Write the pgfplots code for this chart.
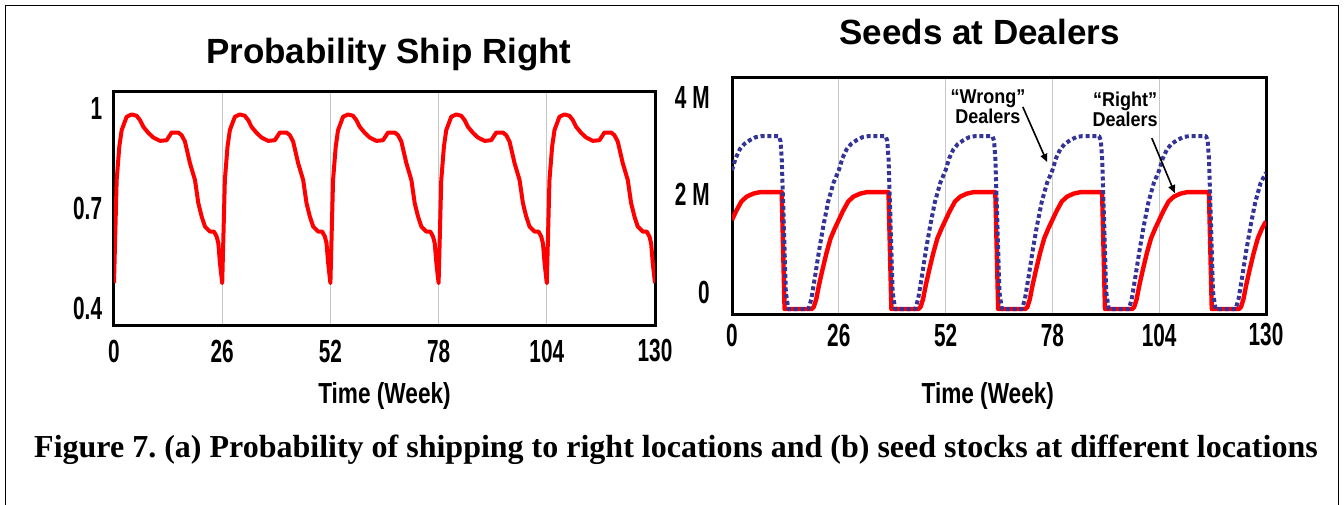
\documentclass[border=0pt]{standalone}
\usepackage{fontspec}
\setmainfont{Liberation Sans}
\newfontfamily\tickfont[FakeStretch=0.65]{Liberation Sans Bold}
\newfontfamily\labfont[FakeStretch=0.78]{Liberation Sans Bold}
\newfontfamily\annfont[FakeStretch=0.9]{Liberation Sans Bold}
\newfontfamily\titfont{Liberation Sans Bold}
\newfontfamily\capfont{Liberation Serif Bold}
\usepackage{pgfplots}
\pgfplotsset{compat=1.18}
\usetikzlibrary{arrows.meta}
\definecolor{wrongblue}{RGB}{51,51,153}
\frenchspacing
\pgfplotsset{
  common/.style={
    scale only axis, anchor=south west,
    xmin=0, xmax=130,
    xtick={0,26,52,78,104,130}, xticklabels={0,26,52,78,104,130},
    major tick length=0pt,
    xmajorgrids, major grid style={line width=0.5pt, black!22},
    axis line style={line width=1.5pt},
    ticklabel style={font=\tickfont\fontsize{16}{16}\selectfont, inner sep=0pt},
    xticklabel style={anchor=center},
    yticklabel style={anchor=east},
    title style={font=\titfont\fontsize{17.5}{17.5}\selectfont, anchor=center, inner sep=0pt},
    xlabel style={font=\labfont\fontsize{14.5}{14.5}\selectfont, anchor=center, inner sep=0pt},
  }
}
\begin{document}
\begin{tikzpicture}
\path[use as bounding box] (0,0) rectangle (672pt,252pt);
\draw[line width=0.5pt] (2.5pt,-2pt) -- (2.5pt,249pt) -- (669pt,249pt) -- (669pt,-2pt);

\begin{axis}[common,
  at={(57pt,89pt)}, width=270.5pt, height=117.5pt,
  ymin=0.349, ymax=1.051,
  ytick={0.4,0.7,1}, yticklabels={0.4,0.7,1},
  xticklabel style={yshift=-12.5pt},
  yticklabel style={xshift=-5.75pt},
  title={Probability Ship Right},
  title style={at={(axis description cs:0.508,1.106)}},
  xlabel={Time (Week)},
  xlabel style={at={(axis description cs:0.5,-0.298)}},
]
\addplot[red, line width=2pt, line join=round] coordinates {
(0,0.477)(0.64,0.785)(1.28,0.885)(1.84,0.934)(3.04,0.974)(4.24,0.981)(5.44,0.977)(6.25,0.964)(7.05,0.944)(8.25,0.926)(9.45,0.912)(11.05,0.902)(12.65,0.904)(13.85,0.927)(15.45,0.927)(16.25,0.919)(17.05,0.900)(18.26,0.835)(19.46,0.785)(20.26,0.716)(21.06,0.676)(21.86,0.646)(23.07,0.631)(24.03,0.631)(24.67,0.616)(25.07,0.596)(25.47,0.536)
(26,0.477)(26.64,0.785)(27.28,0.885)(27.84,0.934)(29.04,0.974)(30.24,0.981)(31.44,0.977)(32.25,0.964)(33.05,0.944)(34.25,0.926)(35.45,0.912)(37.05,0.902)(38.65,0.904)(39.85,0.927)(41.45,0.927)(42.25,0.919)(43.05,0.900)(44.26,0.835)(45.46,0.785)(46.26,0.716)(47.06,0.676)(47.86,0.646)(49.07,0.631)(50.03,0.631)(50.67,0.616)(51.07,0.596)(51.47,0.536)
(52,0.477)(52.64,0.785)(53.28,0.885)(53.84,0.934)(55.04,0.974)(56.24,0.981)(57.44,0.977)(58.25,0.964)(59.05,0.944)(60.25,0.926)(61.45,0.912)(63.05,0.902)(64.65,0.904)(65.85,0.927)(67.45,0.927)(68.25,0.919)(69.05,0.900)(70.26,0.835)(71.46,0.785)(72.26,0.716)(73.06,0.676)(73.86,0.646)(75.07,0.631)(76.03,0.631)(76.67,0.616)(77.07,0.596)(77.47,0.536)
(78,0.477)(78.64,0.785)(79.28,0.885)(79.84,0.934)(81.04,0.974)(82.24,0.981)(83.44,0.977)(84.25,0.964)(85.05,0.944)(86.25,0.926)(87.45,0.912)(89.05,0.902)(90.65,0.904)(91.85,0.927)(93.45,0.927)(94.25,0.919)(95.05,0.900)(96.26,0.835)(97.46,0.785)(98.26,0.716)(99.06,0.676)(99.86,0.646)(101.07,0.631)(102.03,0.631)(102.67,0.616)(103.07,0.596)(103.47,0.536)
(104,0.477)(104.64,0.785)(105.28,0.885)(105.84,0.934)(107.04,0.974)(108.24,0.981)(109.44,0.977)(110.25,0.964)(111.05,0.944)(112.25,0.926)(113.45,0.912)(115.05,0.902)(116.65,0.904)(117.85,0.927)(119.45,0.927)(120.25,0.919)(121.05,0.900)(122.26,0.835)(123.46,0.785)(124.26,0.716)(125.06,0.676)(125.86,0.646)(127.07,0.631)(128.03,0.631)(128.67,0.616)(129.07,0.596)(129.47,0.536)(130,0.477)
};
\end{axis}

\begin{axis}[common,
  at={(366pt,95pt)}, width=267pt, height=118pt,
  ymin=-0.452, ymax=4.394,
  ytick={0,2,4}, yticklabels={0,2 M,4 M},
  xticklabel style={yshift=-10.5pt},
  yticklabel style={xshift=-11pt},
  title={Seeds at Dealers},
  title style={at={(axis description cs:0.4635,1.144)}},
  xlabel={Time (Week)},
  xlabel style={at={(axis description cs:0.479,-0.347)}},
]
\addplot[red, line width=2.2pt, line join=round] coordinates {
(0,1.48)(1,1.66)(2.3,1.86)(3.6,1.96)(5.2,2.02)(6.8,2.05)(12.1,2.05)(12.8,-0.35)(19.4,-0.35)(19.9,-0.31)(20.5,-0.15)(21.2,0.15)(22,0.45)(23,0.8)(24,1.1)(25,1.3)
(26,1.48)(27,1.66)(28.3,1.86)(29.6,1.96)(31.2,2.02)(32.8,2.05)(38.1,2.05)(38.8,-0.35)(45.4,-0.35)(45.9,-0.31)(46.5,-0.15)(47.2,0.15)(48,0.45)(49,0.8)(50,1.1)(51,1.3)
(52,1.48)(53,1.66)(54.3,1.86)(55.6,1.96)(57.2,2.02)(58.8,2.05)(64.1,2.05)(64.8,-0.35)(71.4,-0.35)(71.9,-0.31)(72.5,-0.15)(73.2,0.15)(74,0.45)(75,0.8)(76,1.1)(77,1.3)
(78,1.48)(79,1.66)(80.3,1.86)(81.6,1.96)(83.2,2.02)(84.8,2.05)(90.1,2.05)(90.8,-0.35)(97.4,-0.35)(97.9,-0.31)(98.5,-0.15)(99.2,0.15)(100,0.45)(101,0.8)(102,1.1)(103,1.3)
(104,1.48)(105,1.66)(106.3,1.86)(107.6,1.96)(109.2,2.02)(110.8,2.05)(116.1,2.05)(116.8,-0.35)(123.4,-0.35)(123.9,-0.31)(124.5,-0.15)(125.2,0.15)(126,0.45)(127,0.8)(128,1.1)(129,1.3)(130,1.45)
};
\addplot[wrongblue, line width=2pt, dash pattern=on 2pt off 1.4pt, line join=round] coordinates {
(0,2.5)(0.9,2.75)(1.9,2.93)(3,3.04)(4.4,3.12)(5.8,3.18)(7.2,3.2)(11.4,3.2)(11.8,3.1)(12.1,2.75)(12.5,1.7)(13.1,0)(13.7,-0.35)(18.6,-0.35)(19.3,-0.15)(20.2,0.31)(21.2,0.85)(22.2,1.34)(23.4,1.85)(24.7,2.24)
(26,2.5)(26.9,2.75)(27.9,2.93)(29,3.04)(30.4,3.12)(31.8,3.18)(33.2,3.2)(37.4,3.2)(37.8,3.1)(38.1,2.75)(38.5,1.7)(39.1,0)(39.7,-0.35)(44.6,-0.35)(45.3,-0.15)(46.2,0.31)(47.2,0.85)(48.2,1.34)(49.4,1.85)(50.7,2.24)
(52,2.5)(52.9,2.75)(53.9,2.93)(55,3.04)(56.4,3.12)(57.8,3.18)(59.2,3.2)(63.4,3.2)(63.8,3.1)(64.1,2.75)(64.5,1.7)(65.1,0)(65.7,-0.35)(70.6,-0.35)(71.3,-0.15)(72.2,0.31)(73.2,0.85)(74.2,1.34)(75.4,1.85)(76.7,2.24)
(78,2.5)(78.9,2.75)(79.9,2.93)(81,3.04)(82.4,3.12)(83.8,3.18)(85.2,3.2)(89.4,3.2)(89.8,3.1)(90.1,2.75)(90.5,1.7)(91.1,0)(91.7,-0.35)(96.6,-0.35)(97.3,-0.15)(98.2,0.31)(99.2,0.85)(100.2,1.34)(101.4,1.85)(102.7,2.24)
(104,2.5)(104.9,2.75)(105.9,2.93)(107,3.04)(108.4,3.12)(109.8,3.18)(111.2,3.2)(115.4,3.2)(115.8,3.1)(116.1,2.75)(116.5,1.7)(117.1,0)(117.7,-0.35)(122.6,-0.35)(123.3,-0.15)(124.2,0.31)(125.2,0.85)(126.2,1.34)(127.4,1.85)(128.7,2.24)(130,2.45)
};
\node[font=\annfont\fontsize{10}{10}\selectfont, align=center, inner sep=0pt] at (axis cs:62.3,3.80) {“Wrong”\\Dealers};
\node[font=\annfont\fontsize{10}{10}\selectfont, align=center, inner sep=0pt] at (axis cs:95.7,3.74) {“Right”\\Dealers};
\draw[-{Triangle[length=4pt,width=3.5pt]}, line width=0.8pt] (axis cs:70.8,3.80) -- (axis cs:76.7,2.67);
\draw[-{Triangle[length=4pt,width=3.5pt]}, line width=0.8pt] (axis cs:102.2,3.16) -- (axis cs:107.8,2.03);
\end{axis}

\node[font=\capfont\fontsize{16}{16}\selectfont, anchor=base, inner sep=0pt] at (338pt,23.5pt) {Figure 7. (a) Probability of shipping to right locations and (b) seed stocks at different locations};
\end{tikzpicture}
\end{document}
